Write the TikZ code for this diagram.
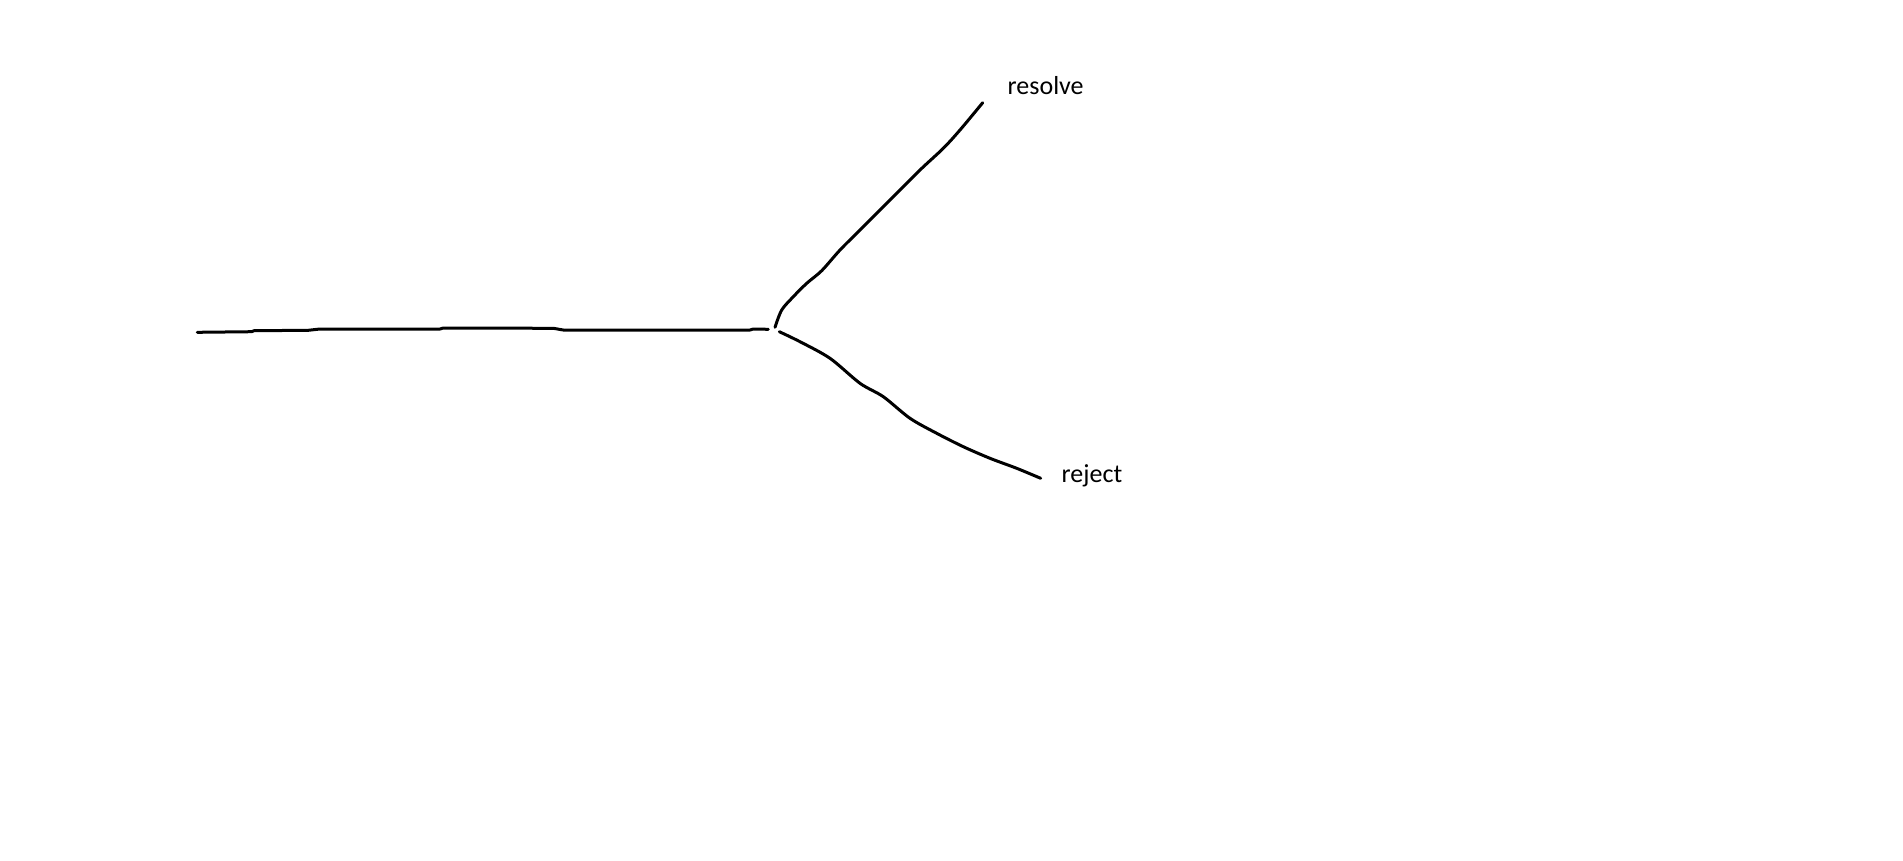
\documentclass[tikz,border=0pt]{standalone}
\usepackage{fontspec}
\setmainfont{Carlito}
\begin{document}
\begin{tikzpicture}[x=1pt,y=-1pt,
  stroke/.style={line width=3pt,line cap=round,line join=round,black},
  lbl/.style={inner sep=0pt,anchor=base west,font=\fontsize{26}{30}\selectfont}]
\useasboundingbox (0,0) rectangle (1903,860);
% nodes
\node[lbl] (resolve) at (1007.5,94.3) {resolve};
\node[lbl] (reject) at (1061.5,482.5) {reject};
\coordinate (start) at (197.3,332.3);
\coordinate (hend) at (768.3,329.3);
\coordinate (rsStart) at (775,327.3);
\coordinate (rsEnd) at (982.7,102.7);
\coordinate (rjStart) at (779.3,331.7);
\coordinate (rjEnd) at (1040.7,478.3);
% horizontal stem
\draw[stroke] (start) -- (251.7,331.7) -- (254,330.7) -- (308.3,330.3) -- (320,329)
  -- (440,329) -- (443.3,328) -- (553.3,328.3) -- (563.3,330) -- (750,330)
  -- (753.3,329) -- (hend);
% resolve branch
\draw[stroke] plot[smooth,tension=0.5] coordinates {(rsStart) (781.7,310) (793.3,296.7) (806.7,283.3)
  (821.7,270.7) (840,250) (860,230) (890,200) (920,170)
  (943.3,148.3) (960,130) (rsEnd)};
% reject branch
\draw[stroke] plot[smooth,tension=0.5] coordinates {(rjStart) (800,341.7) (830,358.3) (860,383.3)
  (883.3,396.7) (910,418.3) (936.7,433.3) (963.3,446.7)
  (990,458.3) (1016.7,468.3) (rjEnd)};
\end{tikzpicture}
\end{document}
